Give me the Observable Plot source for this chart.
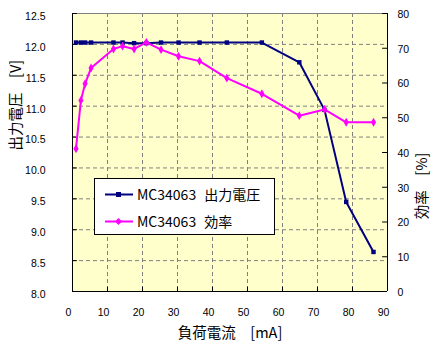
<!DOCTYPE html>
<html><head><meta charset="utf-8">
<script src="https://cdn.jsdelivr.net/npm/d3@7"></script>
<script src="https://cdn.jsdelivr.net/npm/@observablehq/plot@0.6"></script>
<style>
body{margin:0;background:#fff;}
#wrap{position:relative;width:439px;height:352px;}
#legend{position:absolute;left:94px;top:178px;width:179px;height:55px;background:#fff;border:1px solid #000;font-family:"Noto Sans CJK JP",sans-serif;font-size:14px;color:#000;word-spacing:5px;}
#legend .row{position:absolute;left:10px;height:20px;display:flex;align-items:center;white-space:nowrap;}
#legend svg{display:block;margin-right:4px;}
</style></head>
<body><div id="wrap"></div>
<script>
// Data
const current    = [1.0, 2.4, 3.6, 5.3, 11.7, 14.3, 17.6, 21.1, 25.3, 30.3, 36.3, 44.1, 54.1, 64.8, 72.0, 78.2, 86.0]; // mA
const voltage    = [12.03, 12.03, 12.03, 12.03, 12.03, 12.03, 12.02, 12.02, 12.03, 12.03, 12.03, 12.03, 12.03, 11.71, 10.94, 9.45, 8.64]; // V
const efficiency = [41.1, 55.0, 59.8, 64.3, 69.8, 70.6, 69.8, 71.7, 69.6, 67.7, 66.3, 61.4, 56.9, 50.6, 52.4, 48.7, 48.7]; // %
const xTicks   = [0, 10, 20, 30, 40, 50, 60, 70, 80, 90];
const vTicks   = [8.0, 8.5, 9.0, 9.5, 10.0, 10.5, 11.0, 11.5, 12.0, 12.5];
const effTicks = [0, 10, 20, 30, 40, 50, 60, 70, 80];
const seriesNames = ["MC34063 出力電圧", "MC34063 効率"];
const labels = {x: "負荷電流　[mA]", yLeft: "出力電圧　[V]", yRight: "効率　[%]"};

const vMin = 8, vMax = 12.5, eMax = 80;
const toV = e => vMin + e * (vMax - vMin) / eMax;
const toE = v => Math.round((v - vMin) * eMax / (vMax - vMin));

const volt = current.map((c, i) => ({c, v: voltage[i]}));
const eff = current.map((c, i) => ({c, e: efficiency[i]}));
const xGrid = xTicks.slice(1, -1);
const vGrid = vTicks.slice(1, -1);
const grid = {stroke: "#808080", strokeDasharray: "4,3", strokeWidth: 1};
const cjk = "'Noto Sans CJK JP', sans-serif";

const plot = Plot.plot({
  width: 439, height: 352,
  marginLeft: 72, marginRight: 52, marginTop: 13, marginBottom: 61,
  style: {background: "transparent", fontFamily: "'Liberation Sans Narrow','Liberation Sans',sans-serif", fontSize: "10.5px", color: "#000"},
  x: {domain: [0, 90]},
  y: {domain: [vMin, vMax]},
  marks: [
    Plot.frame({fill: "#FFFFCC", stroke: null}),
    Plot.ruleX(xGrid, grid),
    Plot.ruleY(vGrid, grid),
    Plot.ruleY([vMax], {stroke: "#808080"}),
    Plot.ruleY([vMin], {stroke: "#000"}),
    Plot.ruleX([0, 90], {stroke: "#000"}),
    Plot.ruleY(vTicks, {x1: 0, x2: 1.4, stroke: "#000"}),
    Plot.ruleY(effTicks, {y: toV, x1: 88.6, x2: 90, stroke: "#000"}),
    Plot.ruleX(xTicks, {y1: vMin, y2: vMin + 0.07, stroke: "#000"}),
    Plot.line(volt, {x: "c", y: "v", stroke: "#000080", strokeWidth: 2}),
    Plot.dot(volt, {x: "c", y: "v", symbol: "square", r: 2.5, fill: "#000080", stroke: null}),
    Plot.line(eff, {x: "c", y: d => toV(d.e), stroke: "#FF00FF", strokeWidth: 2}),
    Plot.dot(eff, {x: "c", y: d => toV(d.e), symbol: "diamond", r: 2.7, fill: "#FF00FF", stroke: null}),
    Plot.axisX(xTicks, {tickSize: 0, tickPadding: 17, dx: -4, label: null}),
    Plot.axisY(vTicks, {anchor: "left", tickSize: 0, tickPadding: 27, dy: 3, tickFormat: d => d.toFixed(1), label: null}),
    Plot.axisY(effTicks.map(toV), {anchor: "right", tickSize: 0, tickPadding: 10, dy: 1, tickFormat: toE, label: null}),
    Plot.text([labels.x], {frameAnchor: "bottom", dy: 46, fontFamily: cjk, fontSize: 14.5, fill: "#000"}),
    Plot.text([labels.yLeft], {frameAnchor: "left", dx: -56, dy: -2, rotate: -90, fontFamily: cjk, fontSize: 14.5, fill: "#000"}),
    Plot.text([labels.yRight], {frameAnchor: "right", dx: 35, rotate: -90, fontFamily: cjk, fontSize: 14.5, fill: "#000"})
  ]
});
const wrap = document.getElementById("wrap");
wrap.appendChild(plot);

// Legend (inside plot area)
const leg = document.createElement("div");
leg.id = "legend";
const styles = [
  {color: "#000080", marker: '<rect x="11" y="4" width="5" height="5"/>'},
  {color: "#FF00FF", marker: '<path d="M13.5,3 L17,6.5 L13.5,10 L10,6.5 Z"/>'}
];
const rowTops = [5, 32];
seriesNames.forEach((name, i) => {
  const row = document.createElement("div");
  row.className = "row";
  row.style.top = rowTops[i] + "px";
  row.innerHTML = `<svg width="28" height="13"><line x1="0" x2="28" y1="6.5" y2="6.5" stroke="${styles[i].color}" stroke-width="2"/><g fill="${styles[i].color}">${styles[i].marker}</g></svg><span>${name}</span>`;
  leg.appendChild(row);
});
wrap.appendChild(leg);
</script>
</body></html>
